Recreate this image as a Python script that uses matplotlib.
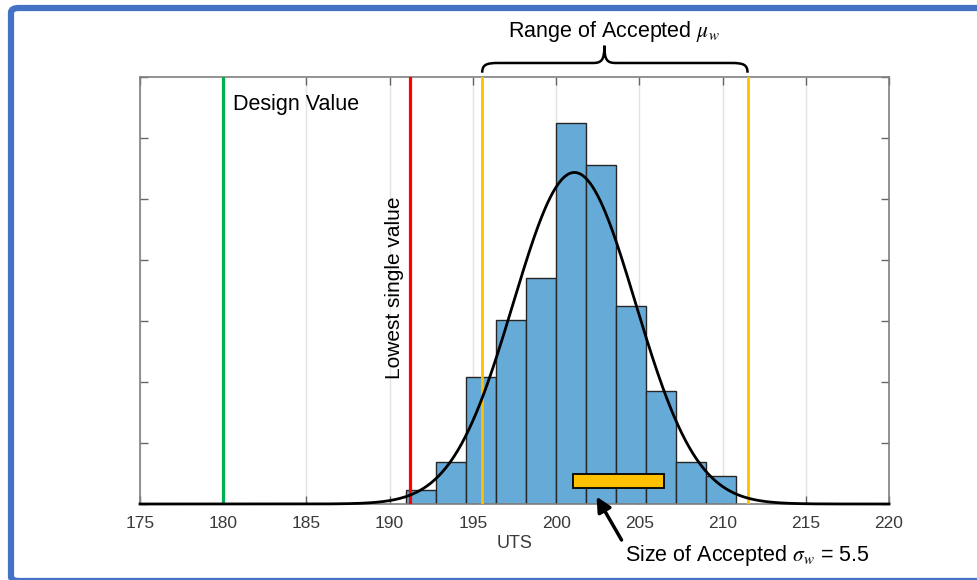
import numpy as np
import matplotlib
matplotlib.use("Agg")
import matplotlib.pyplot as plt
from matplotlib.path import Path
from matplotlib.patches import PathPatch, Rectangle, FancyBboxPatch

plt.rcParams['font.family'] = ['Liberation Sans', 'DejaVu Sans']
plt.rcParams['mathtext.fontset'] = 'stix'

# ---------------- data ----------------
bin_edges = [191.0, 192.8, 194.6, 196.4, 198.2, 200.0, 201.8, 203.6, 205.4, 207.2, 209.0, 210.8]
counts = [1, 3, 9, 13, 16, 27, 24, 14, 8, 3, 2]
fit_mean = 201.1
fit_std = 3.67
design_value = 180.0
lowest_single = 191.2
accepted_mu_range = [195.56, 211.5]
accepted_sigma_box = [201.0, 206.5]
accepted_sigma_box_y = [0.0052, 0.0098]
x_ticks = [175, 180, 185, 190, 195, 200, 205, 210, 215, 220]
y_ticks = [0, 0.02, 0.04, 0.06, 0.08, 0.10, 0.12, 0.14]

W, H = 977, 580
fig = plt.figure(figsize=(W / 100, H / 100), dpi=100)
ax = fig.add_axes([140 / W, 1 - 504 / H, (889 - 140) / W, (504 - 77) / H])

# histogram (probability density)
edges = np.array(bin_edges)
cnt = np.array(counts, dtype=float)
widths = np.diff(edges)
dens = cnt / (cnt.sum() * widths)
ax.bar(edges[:-1], dens, width=widths, align='edge', color='#66AAD7',
       edgecolor='#262626', linewidth=1.0, zorder=2)

# vertical reference lines
ax.axvline(design_value, color='#00B050', lw=2.3, zorder=3)
ax.axvline(lowest_single, color='#FF0000', lw=2.3, zorder=3)
for xv in accepted_mu_range:
    ax.axvline(xv, color='#FFC000', lw=2.0, zorder=3)

# fitted normal curve
xs = np.linspace(175, 220, 600)
pdf = np.exp(-0.5 * ((xs - fit_mean) / fit_std) ** 2) / (fit_std * np.sqrt(2 * np.pi))
ax.plot(xs, pdf, color='black', lw=2.0, zorder=4, clip_on=False)

# accepted sigma box
ax.add_patch(Rectangle((accepted_sigma_box[0], accepted_sigma_box_y[0]),
                       accepted_sigma_box[1] - accepted_sigma_box[0],
                       accepted_sigma_box_y[1] - accepted_sigma_box_y[0],
                       facecolor='#FFC000', edgecolor='black', lw=1.3, zorder=5))

# axes styling
ax.set_xlim(175, 220)
ax.set_ylim(0, 0.14)
ax.set_xticks(x_ticks)
ax.set_yticks(y_ticks)
ax.set_yticklabels([])
ax.tick_params(axis='both', direction='in', length=5.5, width=1.0, color='#666666',
               top=True, right=True, labelsize=12.5, labelcolor='#3a3a3a', pad=8.5)
ax.tick_params(axis='x', which='both', labeltop=False)
for s in ax.spines.values():
    s.set_color('#808080')
    s.set_linewidth(1.2)
ax.grid(axis='x', color='#e3e3e3', lw=1.0, zorder=0)
ax.set_axisbelow(True)
ax.set_xlabel('UTS', fontsize=13, color='#3a3a3a')
ax.xaxis.set_label_coords(0.5, -0.073)

# texts
ax.text(180.6, 0.1310, 'Design Value', fontsize=15.5, color='black',
        ha='left', va='center', zorder=6)
ax.text(190.3, 0.0708, 'Lowest single value', fontsize=15, color='black',
        rotation=90, ha='center', va='center', zorder=6)

fig.text(614.4 / W, 1 - 36.5 / H, r'Range of Accepted $\mu_w$', fontsize=15.5,
         ha='center', va='baseline')
fig.text(625 / W, 1 - 560.5 / H, r'Size of Accepted $\sigma_w$ = 5.5', fontsize=15.5,
         ha='left', va='baseline')

# arrow
ax.annotate('', xy=(202.43, 0.0024), xytext=(203.93, -0.0118),
            arrowprops=dict(arrowstyle='-|>', lw=2.5, color='black', mutation_scale=22,
                            shrinkA=0, shrinkB=0),
            annotation_clip=False, zorder=7)

# curly brace above accepted range
x0, x1 = accepted_mu_range
xt = 202.9
ye, ym, ytip = 1.010, 1.0328, 1.0733
r = 0.96
rt = 0.7
verts = [
    (x0, ye),
    (x0, ym - 0.004), (x0 + 0.25 * r, ym), (x0 + r, ym),
    (xt - rt, ym),
    (xt - 0.25 * rt, ym), (xt, ym + 0.006), (xt, ytip),
    (xt, ym + 0.006), (xt + 0.25 * rt, ym), (xt + rt, ym),
    (x1 - r, ym),
    (x1 - 0.25 * r, ym), (x1, ym - 0.004), (x1, ye),
]
codes = [Path.MOVETO,
         Path.CURVE4, Path.CURVE4, Path.CURVE4,
         Path.LINETO,
         Path.CURVE4, Path.CURVE4, Path.CURVE4,
         Path.CURVE4, Path.CURVE4, Path.CURVE4,
         Path.LINETO,
         Path.CURVE4, Path.CURVE4, Path.CURVE4]
ax.add_patch(PathPatch(Path(verts, codes), facecolor='none', edgecolor='black', lw=1.8,
                       transform=ax.get_xaxis_transform(), clip_on=False))

# blue outer frame
frame = FancyBboxPatch((11 / W, -1 / H), (W + 20) / W, (H - 8) / H + 1 / H,
                       boxstyle='round,pad=0,rounding_size=0.008',
                       transform=fig.transFigure, facecolor='none',
                       edgecolor='#4472C4', lw=4.5, clip_on=False)
fig.patches.append(frame)

fig.savefig('out.png', dpi=100)
